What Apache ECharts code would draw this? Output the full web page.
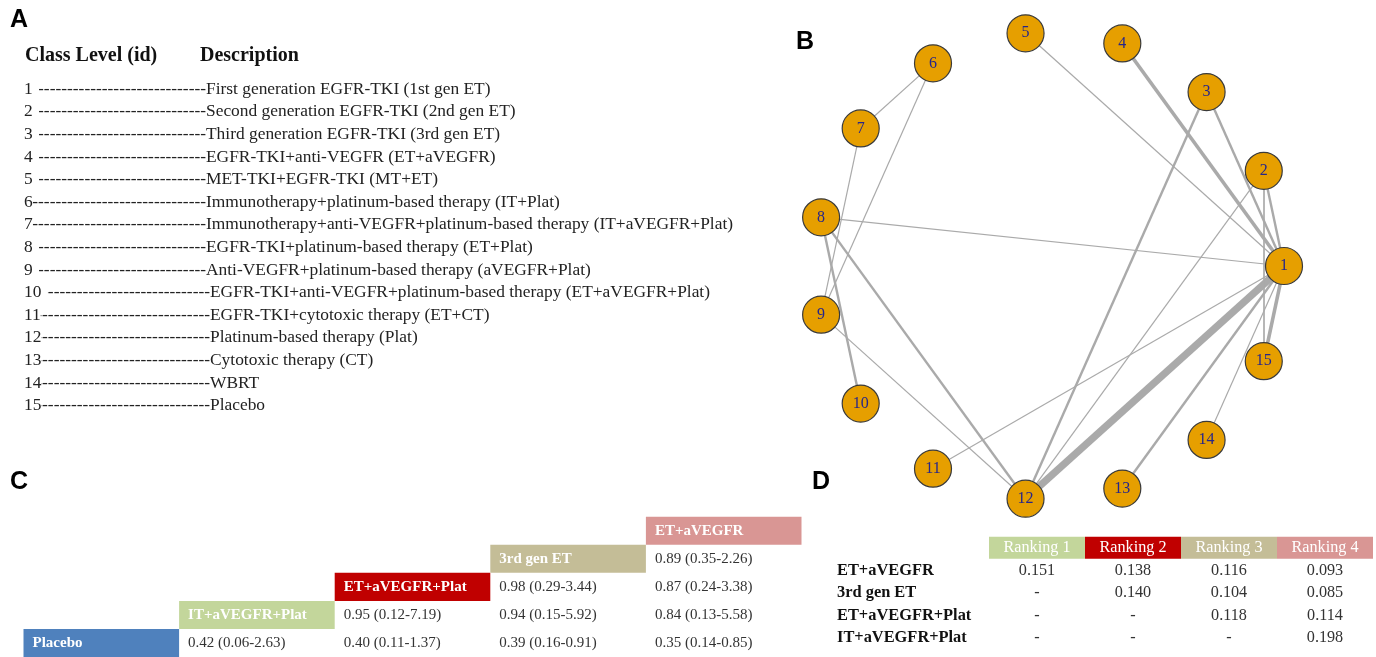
<!DOCTYPE html>
<html>
<head>
<meta charset="utf-8">
<title>Network meta-analysis figure</title>
<script src="https://cdn.jsdelivr.net/npm/echarts@6/dist/echarts.min.js"></script>
<style>
  html, body { margin: 0; padding: 0; background: #fff; }
  #chart { width: 1376px; height: 657px; }
</style>
</head>
<body>
<div id="chart"></div>
<script>
// panel A: class id list
var classIds = ['1', '2', '3', '4', '5', '6', '7', '8', '9', '10', '11', '12', '13', '14', '15']
var classPrefix = ['1 ', '2 ', '3 ', '4 ', '5 ', '6', '7', '8 ', '9 ', '10 ', '11', '12', '13', '14', '15']
var classDesc = [
  'First generation EGFR-TKI (1st gen ET)',
  'Second generation EGFR-TKI (2nd gen ET)',
  'Third generation EGFR-TKI (3rd gen ET)',
  'EGFR-TKI+anti-VEGFR (ET+aVEGFR)',
  'MET-TKI+EGFR-TKI (MT+ET)',
  'Immunotherapy+platinum-based therapy (IT+Plat)',
  'Immunotherapy+anti-VEGFR+platinum-based therapy (IT+aVEGFR+Plat)',
  'EGFR-TKI+platinum-based therapy (ET+Plat)',
  'Anti-VEGFR+platinum-based therapy (aVEGFR+Plat)',
  'EGFR-TKI+anti-VEGFR+platinum-based therapy (ET+aVEGFR+Plat)',
  'EGFR-TKI+cytotoxic therapy (ET+CT)',
  'Platinum-based therapy (Plat)',
  'Cytotoxic therapy (CT)',
  'WBRT',
  'Placebo'
]

// panel B: network edges [from, to, number of comparisons]
var netLinks = [
  ['1', '12', 6],
  ['1', '4', 3],
  ['1', '15', 3],
  ['1', '2', 2],
  ['1', '3', 2],
  ['1', '13', 2],
  ['1', '5', 1],
  ['1', '8', 1],
  ['1', '11', 1],
  ['1', '14', 1],
  ['2', '15', 1.4],
  ['2', '12', 1],
  ['3', '12', 2],
  ['6', '7', 1],
  ['6', '9', 1],
  ['7', '9', 1],
  ['8', '10', 2],
  ['8', '12', 2],
  ['9', '12', 1]
]

// panel C: league table (row treatment vs column treatment)
var leagueTreatments = ['Placebo', 'IT+aVEGFR+Plat', 'ET+aVEGFR+Plat', '3rd gen ET', 'ET+aVEGFR']
var leagueValues = [
  [null, '0.42 (0.06-2.63)', '0.40 (0.11-1.37)', '0.39 (0.16-0.91)', '0.35 (0.14-0.85)'],
  [null, null, '0.95 (0.12-7.19)', '0.94 (0.15-5.92)', '0.84 (0.13-5.58)'],
  [null, null, null, '0.98 (0.29-3.44)', '0.87 (0.24-3.38)'],
  [null, null, null, null, '0.89 (0.35-2.26)'],
  [null, null, null, null, null]
]

// panel D: ranking probabilities
var rankNames = ['Ranking 1', 'Ranking 2', 'Ranking 3', 'Ranking 4']
var rankRows = ['ET+aVEGFR', '3rd gen ET', 'ET+aVEGFR+Plat', 'IT+aVEGFR+Plat']
var rankValues = [
  ['0.151', '0.138', '0.116', '0.093'],
  ['-', '0.140', '0.104', '0.085'],
  ['-', '-', '0.118', '0.114'],
  ['-', '-', '-', '0.198']
]

var leagueColors = ['#4F81BD', '#C3D69B', '#C00000', '#C4BD97', '#D99694']
var rankColors = ['#C3D69B', '#C00000', '#C4BD97', '#D99694']
var serif = '"Liberation Serif", "DejaVu Serif", serif'

var chart = echarts.init(document.getElementById('chart'))

// graphic texts for panel A and panel letters
var graphics = []
var letters = [['A', 10, 20], ['B', 796, 42], ['C', 10, 482], ['D', 812, 482]]
letters.forEach(function (l) {
  graphics.push({
    type: 'text', x: l[1], y: l[2],
    style: { text: l[0], font: 'bold 25px "Liberation Sans", Arial, sans-serif', fill: '#000', verticalAlign: 'middle' }
  })
})
graphics.push({
  type: 'text', x: 25, y: 56,
  style: { text: 'Class Level (id)', font: 'bold 20px ' + serif, fill: '#111', verticalAlign: 'middle' }
})
graphics.push({
  type: 'text', x: 200, y: 56,
  style: { text: 'Description', font: 'bold 20px ' + serif, fill: '#111', verticalAlign: 'middle' }
})
var dashes = new Array(70).join('-')
classIds.forEach(function (id, i) {
  var y = 89.3 + i * 22.6
  var descX = i < 9 ? 206 : 210
  var spaced = classPrefix[i].slice(-1) === ' '
  // dash leader ending where the description starts, the id box hides its left part
  graphics.push({
    type: 'text', x: descX, y: y, z: 1,
    style: { text: dashes, font: '17.4px ' + serif, fill: '#222', align: 'right', verticalAlign: 'middle' }
  })
  graphics.push({
    type: 'text', x: 0, y: y, z: 2,
    style: {
      text: classPrefix[i], font: '17.4px ' + serif, fill: '#222', verticalAlign: 'middle',
      backgroundColor: '#fff', padding: [3, spaced ? 2 : 0, 3, 24]
    }
  })
  graphics.push({
    type: 'text', x: descX, y: y, z: 1,
    style: { text: classDesc[i], font: '17.4px ' + serif, fill: '#222', verticalAlign: 'middle' }
  })
})

// table C cells
var cCells = []
leagueTreatments.forEach(function (t, i) {
  cCells.push({ col: i, row: i, text: t, header: true })
  leagueValues[i].forEach(function (v, j) {
    if (v) cCells.push({ col: j, row: i, text: v, header: false })
  })
})

// table D cells
var dCells = []
rankNames.forEach(function (r, j) {
  dCells.push({ col: j, row: 0, text: r, header: true })
})
rankRows.forEach(function (r, i) {
  rankValues[i].forEach(function (v, j) {
    dCells.push({ col: j, row: i + 1, text: v, header: false })
  })
})

function renderLeague(params, api) {
  var c = cCells[params.dataIndex]
  var p = api.coord([api.value(0), api.value(1)])
  var s = api.size([1, 1])
  var x0 = p[0] - s[0] / 2
  var y0 = p[1] - s[1] / 2
  var children = []
  if (c.header) {
    children.push({
      type: 'rect',
      shape: { x: x0, y: y0, width: s[0], height: s[1] },
      style: { fill: leagueColors[c.col] }
    })
  }
  children.push({
    type: 'text', x: x0 + 9, y: p[1],
    style: {
      text: c.text,
      font: (c.header ? 'bold ' : '') + '15px ' + serif,
      fill: c.header ? '#fff' : '#333',
      verticalAlign: 'middle'
    }
  })
  return { type: 'group', children: children }
}

function renderRank(params, api) {
  var c = dCells[params.dataIndex]
  var p = api.coord([api.value(0), api.value(1)])
  var s = api.size([1, 1])
  var children = []
  if (c.header) {
    children.push({
      type: 'rect',
      shape: { x: p[0] - s[0] / 2, y: p[1] - 11, width: s[0], height: 22 },
      style: { fill: rankColors[c.col] }
    })
  }
  children.push({
    type: 'text', x: p[0], y: p[1],
    style: {
      text: c.text, font: '16.2px ' + serif,
      fill: c.header ? '#fff' : '#333',
      align: 'center', verticalAlign: 'middle'
    }
  })
  return { type: 'group', children: children }
}

var hiddenCat = {
  axisLine: { show: false }, axisTick: { show: false },
  axisLabel: { show: false }, splitLine: { show: false }
}

var option = {
  animation: false,
  backgroundColor: '#fff',
  graphic: graphics,
  polar: { center: [1050, 266], radius: 234 },
  angleAxis: {
    type: 'category', data: classIds, startAngle: 0, clockwise: false, boundaryGap: false,
    axisLine: { show: false }, axisTick: { show: false }, axisLabel: { show: false }, splitLine: { show: false }
  },
  radiusAxis: {
    type: 'value', min: 0, max: 1,
    axisLine: { show: false }, axisTick: { show: false }, axisLabel: { show: false }, splitLine: { show: false }
  },
  grid: [
    { left: 23.5, top: 516.7, width: 778, height: 145 },
    { left: 989, top: 536.5, width: 384, height: 113 }
  ],
  xAxis: [
    Object.assign({ type: 'category', gridIndex: 0, data: leagueTreatments }, hiddenCat),
    Object.assign({ type: 'category', gridIndex: 1, data: rankNames }, hiddenCat)
  ],
  yAxis: [
    Object.assign({ type: 'category', gridIndex: 0, data: leagueTreatments }, hiddenCat),
    {
      type: 'category', gridIndex: 1, inverse: true, data: [''].concat(rankRows),
      axisLine: { show: false }, axisTick: { show: false }, splitLine: { show: false },
      axisLabel: {
        show: true, align: 'left', margin: 152,
        fontFamily: serif, fontWeight: 'bold', fontSize: 16.4, color: '#111'
      }
    }
  ],
  series: [
    {
      type: 'graph',
      coordinateSystem: 'polar',
      silent: true,
      symbol: 'circle',
      symbolSize: 37,
      itemStyle: { color: '#E69F00', borderColor: '#3a3a3a', borderWidth: 1.2 },
      label: {
        show: true, position: 'inside', formatter: '{b}',
        fontFamily: serif, fontSize: 16, color: '#26268a'
      },
      lineStyle: { color: '#aaaaaa', opacity: 1, curveness: 0 },
      data: classIds.map(function (id, i) {
        return { name: id, value: [1, i] }
      }),
      links: netLinks.map(function (l) {
        return { source: l[0], target: l[1], lineStyle: { width: l[2] * 1.2 } }
      })
    },
    {
      type: 'custom',
      xAxisIndex: 0, yAxisIndex: 0,
      silent: true,
      renderItem: renderLeague,
      data: cCells.map(function (c) { return [c.col, c.row] })
    },
    {
      type: 'custom',
      xAxisIndex: 1, yAxisIndex: 1,
      silent: true,
      renderItem: renderRank,
      data: dCells.map(function (c) { return [c.col, c.row] })
    }
  ]
}

chart.setOption(option)
</script>
</body>
</html>
